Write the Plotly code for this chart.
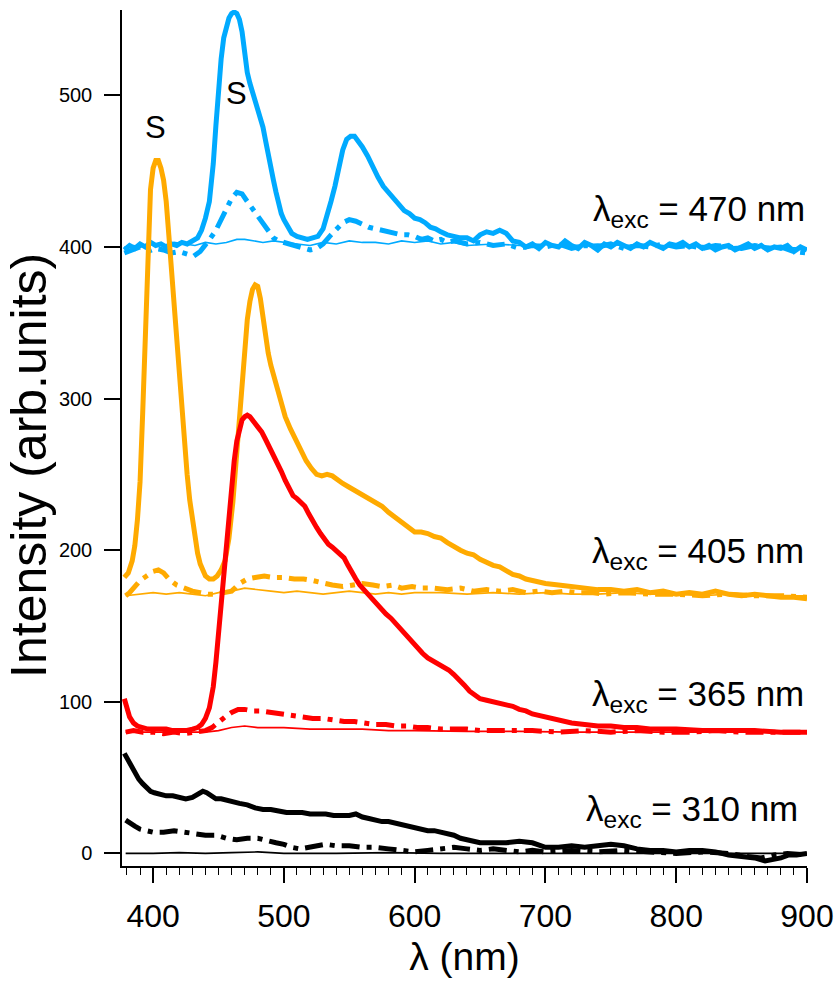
import plotly.graph_objects as go

# ---- emission spectra, 470 nm excitation (blue) ----
wl_470_a = [378, 382, 386, 390, 394, 398, 402, 406, 410, 414, 418, 422, 426, 430, 434, 437, 440, 443, 446, 448,
            450, 452, 454, 456, 458, 460, 462, 464, 466, 468, 470, 472, 474, 476, 478, 480, 482, 484, 486, 488,
            490, 492, 494, 496, 498, 500, 503, 506, 510, 514, 518, 522, 526, 530, 533, 536, 539, 542, 545, 548,
            551, 554, 557, 560, 564, 568, 572, 576, 580, 584, 588, 592, 596, 600, 604, 608, 612, 616, 620, 625,
            630, 635, 640, 645, 650, 655, 660, 665, 670, 675, 680, 685, 690, 695, 700, 705, 710, 715, 720, 725,
            730, 735, 740, 745, 750, 755, 760, 765, 770, 775, 780, 785, 790, 795, 800, 805, 810, 815, 820, 825,
            830, 835, 840, 845, 850, 855, 860, 865, 870, 875, 880, 885, 890, 895, 900]
int_470_a = [398, 401, 399, 402, 400, 403, 401, 402, 400, 402, 401, 403, 402, 404, 406, 411, 419, 430, 455, 480,
             505, 524, 538, 546, 551, 554, 555, 554, 550, 542, 528, 515, 508, 502, 496, 490, 484, 479, 470, 460,
             451, 444, 436, 428, 422, 418, 413, 409, 407, 406, 405, 406, 407, 412, 420, 430, 440, 452, 464, 471,
             473, 473, 470, 466, 460, 452, 446, 440, 436, 432, 428, 424, 422, 419, 418, 416, 413, 412, 410, 408,
             407, 406, 406, 404, 408, 410, 409, 411, 409, 404, 403, 400, 402, 399, 403, 401, 400, 404, 401, 399,
             403, 401, 398, 402, 400, 403, 401, 399, 402, 400, 403, 401, 399, 402, 401, 403, 400, 402, 399, 401,
             398, 400, 401, 398, 400, 402, 399, 401, 398, 400, 399, 401, 397, 400, 398]

wl_470_b = [378, 384, 390, 396, 402, 408, 414, 420, 426, 431, 436, 440, 444, 448, 452, 456, 460, 464, 468, 472,
            476, 480, 484, 488, 492, 496, 500, 505, 510, 515, 520, 525, 530, 535, 540, 545, 550, 555, 560, 565,
            570, 575, 580, 585, 590, 595, 600, 605, 610, 615, 620, 625, 630, 640, 650, 660, 670, 680, 690, 700,
            710, 720, 730, 740, 750, 760, 770, 780, 790, 800, 810, 820, 830, 840, 850, 860, 870, 880, 890, 900]
int_470_b = [396, 398, 400, 397, 399, 398, 396, 397, 395, 394, 397, 401, 406, 411, 418, 426, 432, 436, 435, 430,
             425, 421, 415, 410, 406, 404, 403, 402, 400, 399, 398, 399, 402, 407, 412, 416, 418, 417, 415, 413,
             412, 411, 410, 409, 408, 408, 407, 405, 406, 404, 405, 403, 404, 402, 403, 401, 402, 399, 401, 400,
             402, 399, 401, 400, 402, 399, 401, 400, 402, 400, 401, 399, 401, 400, 399, 401, 399, 400, 397, 396]

wl_470_c = [378, 385, 392, 400, 408, 416, 424, 432, 440, 448, 456, 464, 470, 476, 484, 492, 500, 510, 520, 530,
            540, 550, 560, 570, 580, 590, 600, 610, 620, 630, 640, 660, 680, 700, 720, 740, 760, 780, 800, 820,
            840, 860, 880, 900]
int_470_c = [400, 401, 400, 402, 401, 403, 402, 401, 403, 402, 403, 405, 405, 404, 403, 404, 403, 402, 401, 403,
             402, 404, 403, 403, 402, 404, 403, 404, 402, 403, 401, 402, 401, 402, 401, 402, 401, 402, 400, 401,
             400, 401, 400, 399]

# ---- emission spectra, 405 nm excitation (orange) ----
wl_405_a = [378, 381, 384, 386, 388, 390, 392, 394, 396, 398, 400, 402, 404, 406, 408, 410, 412, 414, 416, 418,
            420, 422, 424, 426, 428, 430, 432, 434, 436, 438, 440, 443, 446, 449, 452, 455, 458, 461, 464, 467,
            470, 472, 474, 476, 478, 480, 482, 484, 486, 488, 490, 492, 495, 498, 501, 505, 509, 513, 517, 521,
            525, 529, 533, 537, 541, 545, 549, 553, 557, 561, 565, 570, 575, 580, 585, 590, 595, 600, 605, 610,
            615, 620, 625, 630, 635, 640, 645, 650, 655, 660, 665, 670, 675, 680, 685, 690, 695, 700, 710, 720,
            730, 740, 750, 760, 770, 780, 790, 800, 810, 820, 830, 840, 850, 860, 870, 880, 890, 900]
int_405_a = [182, 185, 193, 203, 220, 245, 290, 343, 400, 438, 452, 457, 457, 452, 444, 430, 408, 385, 366, 340,
             314, 290, 268, 250, 233, 220, 208, 198, 191, 186, 183, 181, 181, 183, 187, 193, 208, 232, 265, 299,
             333, 352, 364, 372, 375, 374, 366, 352, 340, 330, 322, 316, 305, 296, 288, 280, 273, 266, 259, 254,
             250, 249, 250, 249, 246, 244, 242, 240, 238, 236, 234, 232, 229, 225, 222, 219, 215, 212, 212, 211,
             209, 208, 205, 202, 200, 198, 197, 194, 192, 190, 189, 186, 184, 183, 181, 180, 179, 178, 177, 176,
             175, 174, 174, 173, 174, 172, 173, 171, 172, 171, 173, 171, 170, 171, 170, 169, 169, 168]

wl_405_b = [379, 382, 386, 390, 395, 400, 404, 408, 412, 418, 424, 430, 436, 442, 448, 454, 460, 466, 472, 478,
            485, 492, 500, 508, 515, 522, 530, 537, 545, 553, 560, 568, 575, 583, 590, 598, 605, 615, 625, 635,
            645, 655, 665, 675, 685, 695, 705, 715, 725, 735, 745, 760, 780, 800, 820, 840, 860, 880, 900]
int_405_b = [170, 172, 176, 180, 183, 186, 187, 185, 181, 177, 175, 173, 172, 171, 171, 172, 173, 178, 181, 182,
             183, 182, 182, 181, 181, 180, 178, 177, 176, 177, 178, 177, 176, 177, 175, 176, 175, 175, 174, 175,
             173, 174, 173, 174, 172, 173, 172, 173, 172, 172, 171, 172, 171, 171, 170, 171, 170, 170, 169]

wl_405_c = [379, 390, 400, 410, 420, 430, 440, 450, 460, 470, 478, 490, 500, 510, 520, 530, 540, 550, 560, 570,
            580, 590, 600, 620, 640, 660, 680, 700, 720, 740, 760, 780, 800, 820, 840, 860, 880, 900]
int_405_c = [170, 171, 172, 171, 172, 171, 170, 172, 173, 175, 174, 173, 172, 173, 172, 171, 172, 173, 172, 171,
             172, 171, 172, 172, 171, 172, 171, 172, 171, 171, 172, 171, 171, 170, 171, 170, 170, 170]

# ---- emission spectra, 365 nm excitation (red) ----
wl_365_a = [378, 380, 382, 385, 388, 392, 396, 400, 405, 410, 415, 420, 425, 430, 434, 437, 440, 443, 446, 448,
            450, 452, 454, 456, 458, 460, 462, 464, 466, 468, 470, 472, 474, 476, 478, 480, 483, 486, 489, 492,
            495, 498, 501, 504, 507, 510, 513, 516, 519, 522, 525, 528, 531, 534, 537, 540, 543, 546, 549, 552,
            555, 558, 561, 564, 567, 570, 574, 578, 582, 586, 590, 594, 598, 602, 606, 610, 614, 618, 622, 626,
            630, 634, 638, 642, 646, 650, 655, 660, 665, 670, 675, 680, 685, 690, 695, 700, 710, 720, 730, 740,
            750, 760, 770, 780, 790, 800, 820, 840, 860, 880, 900]
int_365_a = [102, 95, 90, 86, 84, 83, 82, 82, 82, 82, 81, 81, 81, 82, 83, 85, 89, 96, 110, 126,
             145, 165, 184, 204, 225, 244, 259, 272, 281, 286, 288, 289, 288, 286, 284, 282, 278, 273, 268, 263,
             258, 252, 246, 240, 236, 234, 232, 229, 224, 219, 215, 211, 207, 204, 202, 200, 198, 195, 190, 185,
             181, 177, 174, 171, 168, 166, 162, 158, 155, 151, 147, 144, 140, 136, 132, 129, 127, 125, 123, 121,
             118, 115, 111, 107, 104, 102, 101, 100, 99, 98, 97, 95, 94, 92, 91, 90, 88, 86, 85, 84,
             84, 83, 83, 82, 82, 82, 81, 81, 81, 80, 80]

wl_365_b = [379, 385, 392, 400, 408, 416, 424, 432, 440, 445, 450, 455, 460, 465, 470, 476, 482, 490, 498, 506,
            514, 522, 530, 538, 546, 554, 562, 570, 578, 586, 594, 602, 610, 620, 630, 640, 650, 670, 690, 710,
            730, 750, 770, 790, 810, 830, 850, 870, 900]
int_365_b = [80, 81, 80, 80, 79, 80, 79, 80, 81, 83, 87, 90, 93, 95, 95, 94, 94, 93, 92, 91,
             90, 89, 89, 88, 87, 87, 86, 85, 85, 84, 84, 83, 83, 82, 82, 82, 81, 81, 81, 80,
             81, 80, 81, 80, 80, 81, 80, 80, 80]

wl_365_c = [379, 400, 420, 440, 450, 460, 470, 480, 500, 520, 540, 560, 580, 600, 640, 680, 720, 760, 800, 850, 900]
int_365_c = [80, 80, 80, 80, 81, 83, 84, 83, 83, 82, 82, 82, 81, 81, 80.5, 80.5, 80, 80, 80, 80, 80]

# ---- emission spectra, 310 nm excitation (black) ----
wl_310_a = [378, 380, 383, 386, 389, 392, 395, 398, 401, 405, 410, 415, 420, 425, 430, 434, 438, 441, 444, 448,
            452, 456, 460, 466, 472, 478, 484, 490, 496, 502, 508, 514, 520, 526, 532, 538, 544, 550, 555, 560,
            565, 570, 575, 580, 585, 590, 595, 600, 605, 610, 615, 620, 625, 630, 635, 640, 645, 650, 660, 670,
            680, 690, 700, 710, 720, 730, 740, 750, 760, 770, 780, 790, 800, 810, 820, 830, 840, 850, 860, 868,
            874, 880, 886, 892, 900]
int_310_a = [66, 63, 58, 53, 49, 46, 43, 41, 40, 39, 38, 38, 37, 36, 37, 39, 41, 40, 38, 36,
             36, 35, 34, 33, 32, 30, 29, 29, 28, 27, 27, 27, 26, 26, 26, 25, 25, 25, 26, 24,
             23, 22, 21, 21, 20, 19, 18, 17, 16, 15, 15, 14, 13, 12, 10, 9, 8, 7, 7, 7,
             8, 7, 4, 4, 5, 4, 5, 6, 5, 3, 2, 2, 1, 2, 2, 1, -1, -2, -3, -5,
             -4, -3, -1, -1, 0]

wl_310_b = [379, 382, 386, 390, 395, 400, 408, 416, 424, 432, 440, 448, 456, 464, 472, 480, 488, 494, 500, 506,
            512, 518, 524, 532, 540, 550, 560, 570, 580, 590, 600, 610, 620, 630, 640, 650, 660, 670, 680, 690,
            700, 720, 740, 760, 780, 800, 820, 840, 855, 865, 875, 885, 900]
int_310_b = [22, 20, 18, 16, 15, 14, 14, 15, 14, 13, 12, 12, 10, 9, 10, 10, 8, 7, 6, 4,
             3, 4, 5, 6, 5, 5, 4, 4, 3, 2, 1, 2, 3, 4, 3, 2, 3, 2, 1, 2,
             1, 2, 1, 2, 1, 0, 1, 0, -2, -3, -1, 0, -1]

wl_310_c = [379, 400, 420, 440, 460, 480, 500, 540, 580, 620, 660, 700, 740, 780, 820, 860, 900]
int_310_c = [0, 0, 0.5, 0, 0.5, 1, 0, 0, 0.5, 0, 0, 0, 0, 0, 0, 0, 0]

# curve labels and scattering-peak markers
label_text = ["λ<sub>exc</sub> = 470 nm", "λ<sub>exc</sub> = 405 nm",
              "λ<sub>exc</sub> = 365 nm", "λ<sub>exc</sub> = 310 nm"]
label_x = [900, 899, 899, 895]
label_y = [424, 198, 104, 28]
s_x = [401.5, 463.5]
s_y = [479, 501]

BLUE = "#00AAFF"
ORANGE = "#FFAA00"
RED = "#FF0000"
BLACK = "#000000"
DASHDOT = "18px,7px,5px,7px"

series = [
    (wl_470_c, int_470_c, BLUE, 1.6, "solid"),
    (wl_470_b, int_470_b, BLUE, 5, DASHDOT),
    (wl_470_a, int_470_a, BLUE, 5, "solid"),
    (wl_405_c, int_405_c, ORANGE, 1.6, "solid"),
    (wl_405_b, int_405_b, ORANGE, 5, DASHDOT),
    (wl_405_a, int_405_a, ORANGE, 5, "solid"),
    (wl_365_c, int_365_c, RED, 1.6, "solid"),
    (wl_365_b, int_365_b, RED, 5, DASHDOT),
    (wl_365_a, int_365_a, RED, 5, "solid"),
    (wl_310_c, int_310_c, BLACK, 1.6, "solid"),
    (wl_310_b, int_310_b, BLACK, 5, DASHDOT),
    (wl_310_a, int_310_a, BLACK, 5, "solid"),
]

fig = go.Figure()
for wl, inten, color, width, dash in series:
    fig.add_trace(go.Scatter(x=wl, y=inten, mode="lines",
                             line=dict(color=color, width=width, dash=dash),
                             showlegend=False, hoverinfo="skip"))

FONT = "Liberation Sans, Arial, sans-serif"

for t, x, y in zip(label_text, label_x, label_y):
    fig.add_annotation(x=x, y=y, text=t, showarrow=False, xanchor="right", yanchor="middle",
                       font=dict(family=FONT, size=35, color="black"))
for x, y in zip(s_x, s_y):
    fig.add_annotation(x=x, y=y, text="S", showarrow=False, xanchor="center", yanchor="middle",
                       font=dict(family=FONT, size=31, color="black"))

# vertical axis title, placed as a rotated annotation left of the tick labels
fig.add_annotation(xref="paper", yref="paper", x=-0.135, y=0.468, text="Intensity (arb.units)",
                   textangle=-90, showarrow=False, xanchor="center", yanchor="middle",
                   font=dict(family=FONT, size=50, color="black"))

fig.update_layout(
    width=838, height=982,
    margin=dict(l=122, r=31, t=10, b=116),
    paper_bgcolor="white", plot_bgcolor="white",
    font=dict(family=FONT, color="black"),
    xaxis=dict(range=[376.2, 900], showgrid=False, zeroline=False, showline=True, automargin=False,
               linecolor="black", linewidth=1.5, ticks="outside", ticklen=15, tickwidth=1.5,
               tickcolor="black", dtick=100, tick0=0, tickfont=dict(size=32),
               ticklabelstandoff=6,
               minor=dict(dtick=10, tick0=0, ticks="outside", ticklen=7, tickwidth=1.2,
                          tickcolor="black", showgrid=False),
               title=dict(text="λ (nm)", font=dict(size=39), standoff=10)),
    yaxis=dict(range=[-8.3, 556.3], showgrid=False, zeroline=False, showline=True, automargin=False,
               linecolor="black", linewidth=1.5, ticks="outside", ticklen=16, tickwidth=1.5,
               tickcolor="black", dtick=100, tick0=0, tickfont=dict(size=20),
               ticklabelstandoff=8),
)

fig.write_html("out.html")
